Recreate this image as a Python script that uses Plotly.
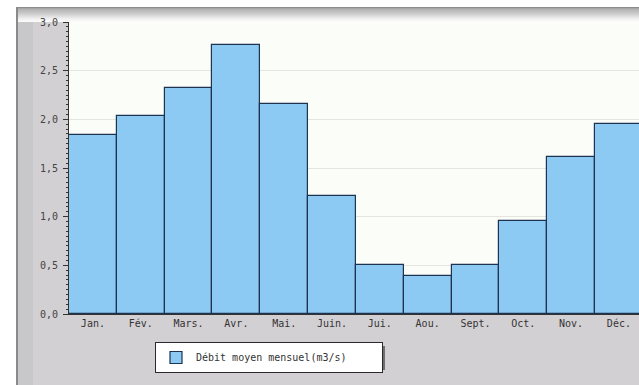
import plotly.graph_objects as go

# Débit moyen mensuel (m3/s)
mois = ["Jan.", "Fév.", "Mars.", "Avr.", "Mai.", "Juin.", "Jui.", "Aou.",
        "Sept.", "Oct.", "Nov.", "Déc."]
debit = [1.84, 2.03, 2.32, 2.76, 2.16, 1.21, 0.50, 0.39, 0.50, 0.96, 1.61, 1.95]
y_ticks = [0.0, 0.5, 1.0, 1.5, 2.0, 2.5, 3.0]
y_labels = ["0,0", "0,5", "1,0", "1,5", "2,0", "2,5", "3,0"]

W, H = 639, 385
ML, MR, MT, MB = 69, 0, 22, 71
PW, PH = W - ML - MR, H - MT - MB


def px(x):
    return (x - ML) / PW


def py(y):
    return 1 - (y - MT) / PH


fig = go.Figure()
fig.add_trace(go.Bar(
    x=list(range(len(mois))), y=debit, width=1.0,
    name="Débit moyen mensuel(m3/s)",
    marker=dict(color="#8cc9f3", line=dict(color="#1d3350", width=1.2)),
))

shapes = []
# grey frame around the plot
shapes.append(dict(type="rect", xref="paper", yref="paper", layer="below",
                   x0=px(17), x1=px(W + 5), y0=py(H + 5), y1=py(7),
                   fillcolor="#d3d0d3", line=dict(width=0)))
shapes.append(dict(type="rect", xref="paper", yref="paper", layer="below",
                   x0=px(17), x1=px(33), y0=py(H + 5), y1=py(20),
                   fillcolor="#c8c7ca", line=dict(width=0)))
# top band with a soft gradient
band = ["#8c8c8c", "#a6a6a6", "#b4b4b4", "#bababa", "#bfbfbf", "#c5c5c5",
        "#cbcbcb", "#d2d2d2", "#d9d9d9", "#e0e0e0", "#e7e7e7", "#eeeeee",
        "#f3f3f3", "#f7f7f7", "#fafafa"]
for i, c in enumerate(band):
    shapes.append(dict(type="rect", xref="paper", yref="paper", layer="below",
                       x0=px(17), x1=px(W + 5),
                       y0=py(8 + i), y1=py(7 + i),
                       fillcolor=c, line=dict(width=0)))
# plot area background
shapes.append(dict(type="rect", xref="paper", yref="paper", layer="below",
                   x0=0, x1=1, y0=0, y1=1,
                   fillcolor="#fbfdf8", line=dict(width=0)))
# left border line
shapes.append(dict(type="line", xref="paper", yref="paper", layer="below",
                   x0=px(17), x1=px(17), y0=py(H + 5), y1=py(7),
                   line=dict(color="#8a8a8a", width=2)))
# legend shadow
shapes.append(dict(type="rect", xref="paper", yref="paper", layer="below",
                   x0=px(159), x1=px(385), y0=py(370), y1=py(346),
                   fillcolor="#6e6e6e", line=dict(width=0)))

fig.update_layout(
    width=W, height=H,
    margin=dict(l=ML, r=MR, t=MT, b=MB, pad=0),
    paper_bgcolor="white",
    plot_bgcolor="#fbfdf8",
    bargap=0,
    shapes=shapes,
    showlegend=True,
    legend=dict(
        x=px(155), y=py(342), xanchor="left", yanchor="top",
        orientation="h", entrywidth=181, entrywidthmode="pixels",
        bgcolor="white", bordercolor="#2a2a2a", borderwidth=1,
        font=dict(family="DejaVu Sans Mono", size=10, color="#333"),
        itemwidth=30,
    ),
    xaxis=dict(
        range=[-0.5, 11.42],
        tickmode="array", tickvals=list(range(len(mois))), ticktext=mois,
        tickfont=dict(family="DejaVu Sans Mono", size=10, color="#333"),
        showgrid=False, zeroline=False,
        showline=True, linecolor="#333", linewidth=1,
        ticks="", fixedrange=True,
    ),
    yaxis=dict(
        range=[0, 3.0],
        tickmode="array", tickvals=y_ticks, ticktext=y_labels,
        tickfont=dict(family="DejaVu Sans Mono", size=10, color="#444"),
        ticklabelstandoff=3,
        showgrid=True, gridcolor="#e4e6de", gridwidth=1,
        zeroline=False,
        showline=True, linecolor="#333", linewidth=1,
        ticks="outside", ticklen=5, tickcolor="#333",
        minor=dict(dtick=0.05, ticks="outside", ticklen=2,
                   tickcolor="#333", showgrid=False),
        fixedrange=True,
    ),
)

fig.write_html("out.html")
